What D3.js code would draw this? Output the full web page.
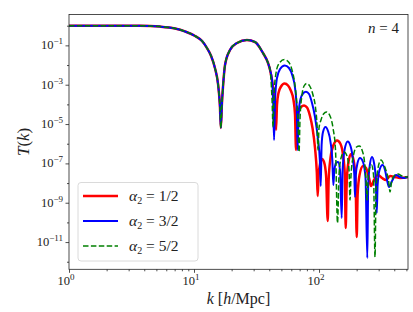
<!DOCTYPE html>
<html>
<head>
<meta charset="utf-8">
<script src="https://cdn.jsdelivr.net/npm/d3@7"></script>
<style>
  body { margin: 0; background: #fff; }
  text { font-family: "Liberation Serif", "DejaVu Serif", serif; fill: #222; }
</style>
</head>
<body>
<div class="canvas"></div>
<script>
// shared part of T(k), identical for the three alpha_2 values
const kHead = [1, 2.13, 3.70, 5.35, 7.05, 8.47, 10.2, 11.6, 12.7, 13.7, 14.7, 15.6, 16.1, 16.4, 16.7, 17.1, 17.7, 19.4, 22.1, 26.5, 30.8, 35.6, 39.1, 40.6]
const tHead = [1, 1, 0.99, 0.90, 0.72, 0.51, 0.30, 0.167, 0.073, 0.029, 7.1e-3, 9.7e-4, 9.3e-5, 6.3e-6, 9.3e-5, 9.7e-4, 0.010, 0.058, 0.132, 0.187, 0.148, 0.041, 0.0127, 5.6e-3]

// alpha_2 = 1/2
const kRed = [42.9, 44.5, 45.3, 46.1, 47.4, 49.7, 53.0, 56.5, 59.7, 62.5, 64.3, 65.5, 66.7, 68.5, 71.8, 75.9, 80.2, 84.7, 88.7, 92.9, 96.0, 97.6, 99.1, 101.9, 105.7, 109.6, 113.8, 117.4, 119.4, 123.6, 130.6, 139.3, 148.6, 155.6, 160.9, 163.5, 166.3, 170.6, 180.3, 188.8, 195.9, 200.3, 203.6, 210.9, 224.9, 237.7, 251.2, 260.6, 275.4, 296.5, 319.2, 343.6, 369.8, 405.5, 444.6, 515]
const tRed = [7.65e-4, 9.30e-5, 4.98e-6, 9.30e-5, 3.79e-4, 8.11e-4, 1.15e-3, 9.12e-4, 4.79e-4, 1.67e-4, 2.89e-5, 4.80e-7, 1.27e-5, 4.10e-5, 7.36e-5, 8.77e-5, 6.94e-5, 2.57e-5, 6.30e-6, 6.06e-7, 3.65e-8, 2.20e-9, 2.29e-8, 9.31e-8, 1.67e-7, 1.18e-7, 2.57e-8, 1.18e-10, 1.43e-8, 1.88e-7, 8.61e-7, 1.46e-6, 9.68e-7, 2.67e-7, 2.57e-8, 5.19e-11, 7.97e-9, 8.28e-8, 3.00e-7, 1.49e-7, 1.81e-8, 1.81e-11, 2.47e-9, 2.57e-8, 7.36e-8, 5.83e-8, 1.81e-8, 7.08e-9, 1.43e-8, 2.57e-8, 1.81e-8, 1.43e-8, 2.29e-8, 2.03e-8, 1.81e-8, 2.03e-8]

// alpha_2 = 3/2
const kBlue = [42.1, 42.9, 43.7, 44.5, 46.1, 48.8, 53.2, 57.5, 61.4, 64.3, 66.4, 67.5, 68.5, 71.1, 74.5, 78.7, 83.2, 87.9, 92.9, 98.2, 101.5, 103.2, 104.9, 107.6, 112.7, 118.0, 123.6, 127.8, 130.1, 132.3, 136.8, 141.9, 147.2, 151.9, 154.5, 160.0, 169.7, 178.6, 187.1, 191.6, 194.1, 197.0, 203.2, 212.8, 224.9, 235.5, 243.4, 247.5, 254.9, 265.5, 275.4, 284.7, 289.5, 294.3, 304.8, 322.1, 337.3, 349.9, 363.1, 383.7, 413.0, 444.6, 478.6, 515]
const tBlue = [1.73e-3, 1.67e-4, 1.55e-6, 1.67e-4, 2.19e-3, 6.29e-3, 9.48e-3, 7.08e-3, 2.77e-3, 6.81e-4, 5.18e-5, 4.80e-7, 2.89e-5, 1.88e-4, 3.57e-4, 4.41e-4, 3.37e-4, 1.18e-4, 2.28e-5, 1.55e-6, 1.49e-7, 7.08e-9, 8.61e-7, 3.94e-6, 7.08e-6, 4.44e-6, 1.22e-6, 1.49e-7, 7.97e-9, 3.65e-8, 1.05e-7, 1.18e-7, 4.61e-8, 1.67e-10, 4.61e-8, 4.80e-7, 1.30e-6, 7.66e-7, 1.49e-7, 2.57e-8, 1.96e-9, 2.57e-8, 1.05e-7, 1.88e-7, 1.18e-7, 1.81e-8, 1.55e-12, 7.97e-9, 8.28e-8, 2.11e-7, 1.05e-7, 1.43e-8, 3.01e-10, 7.97e-9, 4.61e-8, 8.28e-8, 4.61e-8, 1.43e-8, 6.31e-9, 1.27e-8, 2.57e-8, 2.03e-8, 1.81e-8, 2.03e-8]

// alpha_2 = 5/2
const kGreen = [41.3, 42.1, 42.9, 43.7, 45.3, 47.9, 52.8, 57.5, 60.8, 63.7, 66.1, 67.9, 69.2, 70.5, 73.1, 75.9, 79.7, 84.7, 89.5, 93.8, 96.4, 98.2, 100, 103.7, 108.6, 114.8, 122.5, 129.4, 135.5, 140.6, 144.5, 150.0, 158.5, 167.5, 173.8, 177.0, 180.3, 188.8, 199.5, 210.1, 220.8, 231.2, 237.7, 242.1, 246.6, 253.5, 263.0, 272.9, 280.5, 285.8, 296.5, 313.3, 331.1, 346.7, 359.7, 369.8, 380.2, 398.1, 428.5, 461.3, 515]
const tGreen = [1.73e-3, 1.67e-4, 7.08e-6, 3.00e-4, 3.94e-3, 1.20e-2, 1.91e-2, 1.35e-2, 5.60e-3, 1.37e-3, 1.67e-4, 1.61e-5, 3.79e-7, 2.03e-5, 3.00e-4, 8.59e-4, 1.15e-3, 8.11e-4, 3.00e-4, 6.55e-5, 8.95e-6, 4.80e-7, 6.30e-6, 1.61e-5, 3.24e-5, 4.10e-5, 2.57e-5, 6.30e-6, 4.80e-7, 9.31e-11, 2.57e-8, 1.88e-7, 3.79e-7, 2.38e-7, 4.61e-8, 1.38e-9, 2.57e-8, 2.67e-7, 6.81e-7, 7.66e-7, 4.80e-7, 1.18e-7, 1.43e-8, 1.38e-9, 1.43e-8, 5.83e-8, 8.28e-8, 2.57e-8, 1.74e-12, 4.44e-9, 5.83e-8, 1.49e-7, 8.28e-8, 3.65e-8, 1.43e-8, 3.51e-9, 1.13e-8, 2.29e-8, 2.88e-8, 2.29e-8, 2.03e-8]

const labels = ['1/2', '3/2', '5/2']
const xTicks = [1, 10, 100]
const yTicks = [1e-1, 1e-3, 1e-5, 1e-7, 1e-9, 1e-11]

const series = [
  { lab: labels[0], color: '#ff0000', w: 2.5, dash: null, k: kHead.concat(kRed), t: tHead.concat(tRed) },
  { lab: labels[1], color: '#0000ff', w: 2, dash: null, k: kHead.concat(kBlue), t: tHead.concat(tBlue) },
  { lab: labels[2], color: '#008000', w: 1.5, dash: '5.5,2.4', k: kHead.concat(kGreen), t: tHead.concat(tGreen) }
]

const W = 413, H = 312
const m = { left: 69, right: 408, top: 14.5, bottom: 269.3 }

const svg = d3.select('.canvas').append('svg')
    .attr('width', W)
    .attr('height', H)

const x = d3.scaleLog().domain([1, 515]).range([m.left, m.right])
const y = d3.scaleLog().domain([4.13e-13, 3.71]).range([m.bottom, m.top])

// clip the curves to the axes box
svg.append('clipPath').attr('id', 'clip')
  .append('rect')
    .attr('x', m.left).attr('y', m.top)
    .attr('width', m.right - m.left).attr('height', m.bottom - m.top)

const line = d3.line()
    .x(d => x(d[0]))
    .y(d => y(d[1]))
    .curve(d3.curveMonotoneX)

const plot = svg.append('g').attr('clip-path', 'url(#clip)')
series.forEach(s => {
  plot.append('path')
      .datum(d3.zip(s.k, s.t))
      .attr('d', line)
      .attr('fill', 'none')
      .attr('stroke', s.color)
      .attr('stroke-width', s.w)
      .attr('stroke-dasharray', s.dash)
      .attr('stroke-linejoin', 'round')
})

// x axis: majors at decades, minors in between
const xMinor = []
for (let d = 1; d <= 100; d *= 10) for (let j = 2; j <= 9; j++) if (d * j <= 515) xMinor.push(d * j)

const xAxis = svg.append('g').attr('transform', `translate(0,${m.bottom})`)
xAxis.call(d3.axisBottom(x).tickValues(xTicks).tickSize(3.5).tickFormat(''))
xAxis.append('g').call(d3.axisBottom(x).tickValues(xMinor).tickSize(2).tickFormat(''))
xAxis.selectAll('.domain').remove()
xAxis.selectAll('line').attr('stroke', '#222').attr('stroke-width', 0.8)

xTicks.forEach((v, i) => {
  const t = svg.append('text')
      .attr('x', x(v) - 3)
      .attr('y', 285)
      .attr('text-anchor', 'middle')
      .style('font-size', '12.5px')
  t.append('tspan').text('10')
  t.append('tspan').attr('dy', -5).style('font-size', '9px').text(String(Math.round(Math.log10(v))))
})

// y axis
const yMinor = [1e0, 1e-2, 1e-4, 1e-6, 1e-8, 1e-10, 1e-12]
const yAxis = svg.append('g').attr('transform', `translate(${m.left},0)`)
yAxis.call(d3.axisLeft(y).tickValues(yTicks).tickSize(3.5).tickFormat(''))
yAxis.append('g').call(d3.axisLeft(y).tickValues(yMinor).tickSize(2).tickFormat(''))
yAxis.selectAll('.domain').remove()
yAxis.selectAll('line').attr('stroke', '#222').attr('stroke-width', 0.8)

yTicks.forEach(v => {
  const t = svg.append('text')
      .attr('x', 63)
      .attr('y', y(v) + 4)
      .attr('text-anchor', 'end')
      .style('font-size', '12.5px')
  t.append('tspan').text('10')
  t.append('tspan').attr('dy', -5).style('font-size', '9px').text('\u2212' + Math.round(-Math.log10(v)))
})

// frame
svg.append('rect')
    .attr('x', m.left).attr('y', m.top)
    .attr('width', m.right - m.left).attr('height', m.bottom - m.top)
    .attr('fill', 'none')
    .attr('stroke', '#222')
    .attr('stroke-width', 0.8)

// axis labels
svg.append('text')
    .attr('transform', `translate(29,${(m.top + m.bottom) / 2}) rotate(-90)`)
    .attr('text-anchor', 'middle')
    .style('font-size', '17px')
    .html('<tspan font-style="italic">T</tspan>(<tspan font-style="italic">k</tspan>)')

svg.append('text')
    .attr('x', (m.left + m.right) / 2)
    .attr('y', 304)
    .attr('text-anchor', 'middle')
    .style('font-size', '16px')
    .html('<tspan font-style="italic">k</tspan> [<tspan font-style="italic">h</tspan>/Mpc]')

svg.append('text')
    .attr('x', 399)
    .attr('y', 33)
    .attr('text-anchor', 'end')
    .style('font-size', '15px')
    .html('<tspan font-style="italic">n</tspan> = 4')

// legend
const lg = svg.append('g')
lg.append('rect')
    .attr('x', 78).attr('y', 182.5)
    .attr('width', 120).attr('height', 78.5)
    .attr('rx', 3)
    .attr('fill', 'rgba(255,255,255,0.8)')
    .attr('stroke', '#d0d0d0')
    .attr('stroke-width', 0.8)

series.forEach((s, i) => {
  const yy = 196 + i * 25
  lg.append('line')
      .attr('x1', 83).attr('x2', 118)
      .attr('y1', yy).attr('y2', yy)
      .attr('stroke', s.color)
      .attr('stroke-width', s.w)
      .attr('stroke-dasharray', s.dash)
  const t = lg.append('text')
      .attr('x', 129)
      .attr('y', yy + 5)
      .style('font-size', '15.5px')
  t.append('tspan').attr('font-style', 'italic').text('\u03b1')
  t.append('tspan').attr('dy', 3).style('font-size', '10px').text('2')
  t.append('tspan').attr('dy', -3).text(' = ' + s.lab)
})
</script>
</body>
</html>
